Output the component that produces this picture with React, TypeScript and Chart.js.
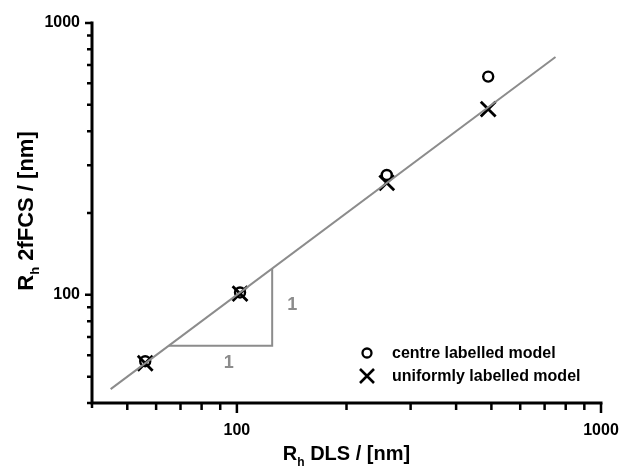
import React, { useEffect, useRef } from 'react';
import { Chart, registerables } from 'chart.js';

Chart.register(...registerables);

// ---- data ----
const dlsRadius = [56, 102, 258, 490];
const centreLabelled = [57, 102, 276, 635];
const uniformlyLabelled = [56, 101, 258, 482];
const fitLineX = [45, 750];
const fitLineY = [45, 750];
const triangleX = [65, 125, 125];
const triangleY = [65, 65, 125];
const slopeLabelX = [95, 142];
const slopeLabelY = [56, 92];
const slopeLabelText = ['1', '1'];
const axisTicks = [40, 50, 60, 70, 80, 90, 100, 200, 300, 400, 500, 600, 700, 800, 900, 1000];
const labelledTicks = [100, 1000];
const legendLabels = ['centre labelled model', 'uniformly labelled model'];
const xTitleParts = ['R', 'h', ' DLS / [nm]'];
const yTitleParts = ['R', 'h', ' 2fFCS / [nm]'];

const FONT = '"Liberation Sans", Arial, Helvetica, sans-serif';
const GRAY = '#8c8c8c';

function drawRich(ctx: CanvasRenderingContext2D, parts: string[], cx: number, baseY: number, size: number) {
  const big = `bold ${size}px ${FONT}`;
  const small = `bold ${Math.round(size * 0.6)}px ${FONT}`;
  ctx.font = big;
  const w0 = ctx.measureText(parts[0]).width;
  const w2 = ctx.measureText(parts[2]).width;
  ctx.font = small;
  const w1 = ctx.measureText(parts[1]).width;
  const total = w0 + w1 + w2;
  let x = cx - total / 2;
  ctx.textAlign = 'left';
  ctx.textBaseline = 'alphabetic';
  ctx.fillStyle = '#000';
  ctx.font = big;
  ctx.fillText(parts[0], x, baseY);
  x += w0;
  ctx.font = small;
  ctx.fillText(parts[1], x, baseY + size * 0.28);
  x += w1;
  ctx.font = big;
  ctx.fillText(parts[2], x, baseY);
}

const decorPlugin = {
  id: 'decor',
  afterDraw(chart: any) {
    const ctx: CanvasRenderingContext2D = chart.ctx;
    const xs = chart.scales.x;
    const ys = chart.scales.y;
    const { left, right, top, bottom } = chart.chartArea;
    ctx.save();
    // axes lines
    ctx.strokeStyle = '#000';
    ctx.lineWidth = 3;
    ctx.lineCap = 'butt';
    ctx.beginPath();
    ctx.moveTo(left, top - 1.5);
    ctx.lineTo(left, bottom);
    ctx.moveTo(left - 1.5, bottom);
    ctx.lineTo(right + 1.5, bottom);
    ctx.stroke();
    // ticks
    ctx.lineWidth = 2.5;
    ctx.beginPath();
    xs.ticks.forEach((t: any) => {
      const px = xs.getPixelForValue(t.value);
      const len = t.value === 40 ? 5 : labelledTicks.includes(t.value) ? 10 : 7;
      ctx.moveTo(px, bottom);
      ctx.lineTo(px, bottom + len);
    });
    ys.ticks.forEach((t: any) => {
      const py = ys.getPixelForValue(t.value);
      const len = t.value === 40 ? 5 : labelledTicks.includes(t.value) ? 7 : 5;
      ctx.moveTo(left, py);
      ctx.lineTo(left - len, py);
    });
    ctx.stroke();

    // slope labels
    ctx.fillStyle = GRAY;
    ctx.font = `bold 18px ${FONT}`;
    ctx.textAlign = 'center';
    ctx.textBaseline = 'middle';
    slopeLabelText.forEach((txt, i) => {
      ctx.fillText(txt, xs.getPixelForValue(slopeLabelX[i]), ys.getPixelForValue(slopeLabelY[i]));
    });

    // legend
    const mx = 367;
    const tx = 392;
    const r1 = bottom - 50;
    const r2 = bottom - 27;
    ctx.strokeStyle = '#000';
    ctx.lineWidth = 2.3;
    ctx.beginPath();
    ctx.arc(mx, r1, 4.5, 0, Math.PI * 2);
    ctx.stroke();
    ctx.lineWidth = 2.6;
    ctx.beginPath();
    ctx.moveTo(mx - 7, r2 - 7);
    ctx.lineTo(mx + 7, r2 + 7);
    ctx.moveTo(mx + 7, r2 - 7);
    ctx.lineTo(mx - 7, r2 + 7);
    ctx.stroke();
    ctx.fillStyle = '#000';
    ctx.font = `bold 16px ${FONT}`;
    ctx.textAlign = 'left';
    ctx.textBaseline = 'middle';
    ctx.fillText(legendLabels[0], tx, r1 + 1);
    ctx.fillText(legendLabels[1], tx, r2 + 1);

    // axis titles
    drawRich(ctx, xTitleParts, (left + right) / 2, 460, 20);
    ctx.save();
    ctx.translate(33, 211);
    ctx.rotate(-Math.PI / 2);
    drawRich(ctx, yTitleParts, 0, 0, 22);
    ctx.restore();

    ctx.restore();
  },
};

export default function App() {
  const ref = useRef<HTMLCanvasElement | null>(null);
  useEffect(() => {
    if (!ref.current) return;
    Chart.defaults.font.family = FONT;
    const tickCfg = (pad: number) => ({
      autoSkip: false,
      maxRotation: 0,
      minRotation: 0,
      padding: pad,
      color: '#000',
      font: { size: 16, weight: 'bold' as const, family: FONT },
      callback: (v: any) => (labelledTicks.includes(Number(v)) ? String(v) : ''),
    });
    const chart = new Chart(ref.current, {
      type: 'scatter',
      data: {
        datasets: [
          {
            label: 'fit',
            data: fitLineX.map((x, i) => ({ x, y: fitLineY[i] })),
            showLine: true,
            borderColor: GRAY,
            borderWidth: 2,
            pointRadius: 0,
          },
          {
            label: 'triangle',
            data: triangleX.map((x, i) => ({ x, y: triangleY[i] })),
            showLine: true,
            borderColor: GRAY,
            borderWidth: 2,
            pointRadius: 0,
          },
          {
            label: legendLabels[0],
            data: dlsRadius.map((x, i) => ({ x, y: centreLabelled[i] })),
            pointStyle: 'circle',
            pointRadius: 5,
            borderWidth: 2.4,
            borderColor: '#000',
            backgroundColor: 'rgba(0,0,0,0)',
          },
          {
            label: legendLabels[1],
            data: dlsRadius.map((x, i) => ({ x, y: uniformlyLabelled[i] })),
            pointStyle: 'crossRot',
            pointRadius: 10.5,
            borderWidth: 2.8,
            borderColor: '#000',
            backgroundColor: '#000',
          },
        ],
      },
      options: {
        animation: false,
        responsive: true,
        maintainAspectRatio: false,
        layout: { padding: { left: 0, right: 23, top: 23, bottom: 0 } },
        plugins: { legend: { display: false }, tooltip: { enabled: false }, title: { display: false } },
        scales: {
          x: {
            type: 'logarithmic',
            min: 40,
            max: 1000,
            grid: { display: false, drawTicks: false },
            border: { display: false },
            ticks: tickCfg(18),
            afterBuildTicks: (s: any) => {
              s.ticks = axisTicks.map((v) => ({ value: v }));
            },
            afterFit: (s: any) => {
              s.height = 66;
              s.paddingLeft = 0;
              s.paddingRight = 0;
            },
          },
          y: {
            type: 'logarithmic',
            min: 40,
            max: 1000,
            grid: { display: false, drawTicks: false },
            border: { display: false },
            ticks: tickCfg(12),
            afterBuildTicks: (s: any) => {
              s.ticks = axisTicks.map((v) => ({ value: v }));
            },
            afterFit: (s: any) => {
              s.width = 92;
              s.paddingTop = 0;
              s.paddingBottom = 0;
            },
          },
        },
      } as any,
      plugins: [decorPlugin],
    });
    return () => chart.destroy();
  }, []);
  return (
    <div style={{ position: 'absolute', left: 0, top: 0, width: 624, height: 469 }}>
      <canvas ref={ref} />
    </div>
  );
}
